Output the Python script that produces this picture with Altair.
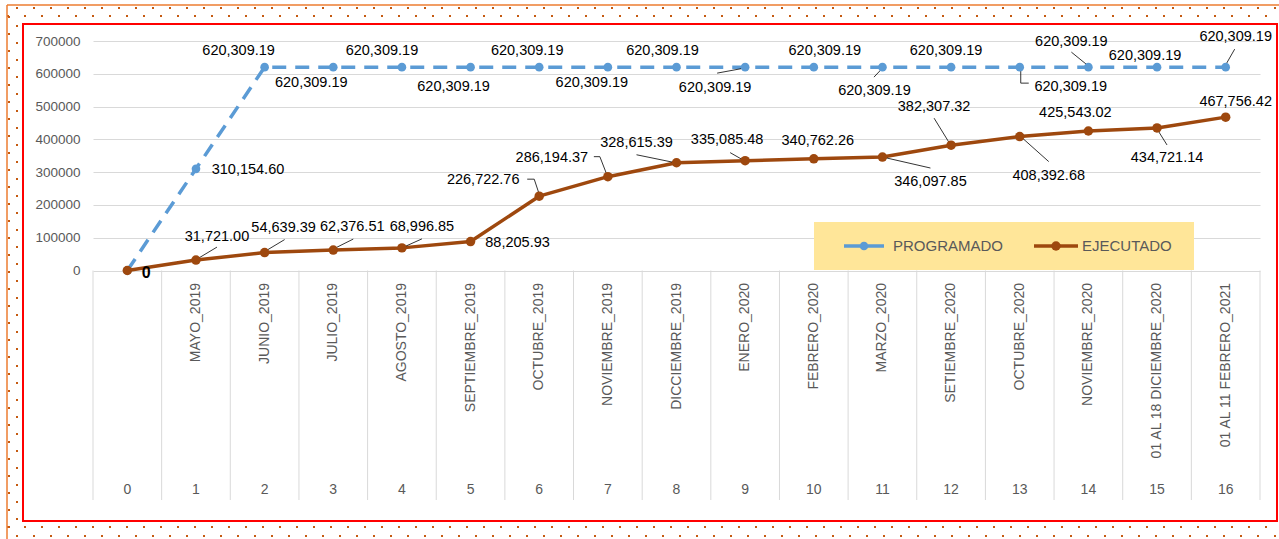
import altair as alt
import pandas as pd

# ---------------- data ----------------
SERIES = ["PROGRAMADO", "EJECUTADO"]
PERIODS = list(range(17))
CATEGORIES = ["", "MAYO_2019", "JUNIO_2019", "JULIO_2019", "AGOSTO_2019",
              "SEPTIEMBRE_2019", "OCTUBRE_2019", "NOVIEMBRE_2019", "DICCIEMBRE_2019",
              "ENERO_2020", "FEBRERO_2020", "MARZO_2020", "SETIEMBRE_2020",
              "OCTUBRE_2020", "NOVIEMBRE_2020", "01 AL 18 DICIEMBRE_2020",
              "01 AL 11 FEBRERO_2021"]
PROGRAMADO = [0, 310154.60, 620309.19, 620309.19, 620309.19, 620309.19, 620309.19,
              620309.19, 620309.19, 620309.19, 620309.19, 620309.19, 620309.19,
              620309.19, 620309.19, 620309.19, 620309.19]
EJECUTADO = [0, 31721.00, 54639.39, 62376.51, 68996.85, 88205.93, 226722.76,
             286194.37, 328615.39, 335085.48, 340762.26, 346097.85, 382307.32,
             408392.68, 425543.02, 434721.14, 467756.42]
Y_TICKS = [0, 100000, 200000, 300000, 400000, 500000, 600000, 700000]

# ---------------- layout / style (pixels) ----------------
W, H = 1167, 459
PAD = {"left": 93, "top": 41, "right": 19, "bottom": 39}
X_DOMAIN = [-0.5, 16.5]
Y_DOMAIN = [-700000, 700000]
XPX = W / (X_DOMAIN[1] - X_DOMAIN[0])
YPX = H / (Y_DOMAIN[1] - Y_DOMAIN[0])
BLUE = "#5B9BD5"
BROWN = "#9E480E"
GRAY_TXT = "#595959"
GRID = "#D9D9D9"
FONT = "Liberation Sans"

# label offsets from their point (dx, dy) in pixels, None = no label
PROG_LABEL_OFF = [None, (52, 1), (-26, -16), (-22, 16), (-20, -16), (-17, 20), (-12, -16),
                  (-16, 16), (-14, -16), (-30, 21), (11, -16), (-8, 24), (-5, -16),
                  (51, 20), (-17, -25), (-12, -11), (10, -30)]
EJ_LABEL_OFF = [(19, 2), (21, -23), (19, -25), (19, -23), (20, -21), (47, 1), (-56, -16),
                (-56, -19), (-40, -20), (-18, -21), (4, -18), (48, 25), (-17, -38),
                (29, 39), (-13, -18), (10, 30), (10, -15)]
# leader line paths relative to their point (pixels)
PROG_LEADERS = {9: [(-28, 6), (-1, 1)], 11: [(-8.5, 10), (1, 0)],
                13: [(1, 0), (1, 16), (9, 16)], 14: [(-17, -15), (-1, -2)],
                16: [(9, -18), (1, -4)]}
EJ_LEADERS = {1: [(21, -13), (1, -1)], 2: [(20, -13), (0, -1)], 3: [(20, -11), (0, -1)],
              4: [(20, -9), (0, 0)], 6: [(-12, -17), (-5, -17), (0, -2)],
              7: [(-14, -20), (-8, -20), (-1, -2)], 8: [(-40, -8), (-1, 0)],
              9: [(-15, -8), (-1, 0)], 11: [(48, 11), (0, 0)], 12: [(-17, -27), (-1, -1)],
              13: [(29, 25), (1, 0)], 15: [(10, 17), (0, 1)]}

# ---------------- tables ----------------
df_prog = pd.DataFrame({"x": PERIODS, "v": PROGRAMADO})
df_ej = pd.DataFrame({"x": PERIODS, "v": EJECUTADO})

label_rows = []
leader_rows = []
for sname, vals, offs, leaders in [(SERIES[0], PROGRAMADO, PROG_LABEL_OFF, PROG_LEADERS),
                                   (SERIES[1], EJECUTADO, EJ_LABEL_OFF, EJ_LEADERS)]:
    for i, (v, off) in enumerate(zip(vals, offs)):
        if off is None:
            continue
        txt = "0" if v == 0 else f"{v:,.2f}"
        label_rows.append({"x": i + off[0] / XPX, "v": v - off[1] / YPX, "t": txt,
                           "bold": v == 0})
    for i, path in leaders.items():
        for k, (dx, dy) in enumerate(path):
            leader_rows.append({"id": f"{sname}{i}", "k": k,
                                "x": i + dx / XPX, "v": vals[i] - dy / YPX})
df_lab = pd.DataFrame(label_rows)
df_lead = pd.DataFrame(leader_rows)
df_cat = pd.DataFrame({"x": PERIODS, "cat": CATEGORIES, "num": [str(p) for p in PERIODS]})
df_sep = pd.DataFrame({"x": [p - 0.5 for p in PERIODS] + [PERIODS[-1] + 0.5]})
one = pd.DataFrame({"d": [0]})

xs = alt.Scale(domain=X_DOMAIN, nice=False, zero=False)
ys = alt.Scale(domain=Y_DOMAIN, nice=False, zero=False)
yaxis = alt.Axis(values=Y_TICKS, format="d", grid=True, gridColor=GRID, gridWidth=1,
                 domain=False, ticks=False, labelColor=GRAY_TXT, labelFontSize=13.5,
                 labelFont=FONT, labelPadding=13, title=None)
X = lambda f="x": alt.X(f"{f}:Q", scale=xs, axis=None)
Y = lambda f="v": alt.Y(f"{f}:Q", scale=ys, axis=yaxis)


def px(v):
    return alt.value(v)

# ---------------- decorations ----------------
DOT = "#C55A11"
deco = []
for (y, x0) in [(8, 16), (16, 7), (527, 7), (536, 16)]:
    deco.append(alt.Chart(one).mark_rule(color=DOT, strokeWidth=2, strokeDash=[2, 15]).encode(
        x=px(x0 - PAD["left"]), x2=px(1279 - PAD["left"]), y=px(y - PAD["top"])))
for (x, y0) in [(9, 16), (17, 25)]:
    deco.append(alt.Chart(one).mark_rule(color=DOT, strokeWidth=2, strokeDash=[2, 15]).encode(
        x=px(x - PAD["left"]), y=px(y0 - PAD["top"]), y2=px(539 - PAD["top"])))
deco.append(alt.Chart(one).mark_rule(color="#ED7D31", strokeWidth=1.5).encode(
    x=px(7 - PAD["left"]), x2=px(1279 - PAD["left"]), y=px(5 - PAD["top"])))
deco.append(alt.Chart(one).mark_rule(color="#ED7D31", strokeWidth=1.5).encode(
    x=px(7 - PAD["left"]), y=px(5 - PAD["top"]), y2=px(539 - PAD["top"])))
deco.append(alt.Chart(one).mark_rect(fillOpacity=0, stroke="#FF0000", strokeWidth=2).encode(
    x=px(23 - PAD["left"]), x2=px(1277 - PAD["left"]),
    y=px(24 - PAD["top"]), y2=px(521 - PAD["top"])))

# ---------------- category axis ----------------
zero_px = (Y_DOMAIN[1] - 0) * YPX
sep = alt.Chart(df_sep).mark_rule(color=GRID, strokeWidth=1).encode(
    x=X(), y=px(zero_px), y2=px(H))
cat_txt = alt.Chart(df_cat).mark_text(angle=270, align="right", baseline="middle",
                                      font=FONT, fontSize=14, color=GRAY_TXT).encode(
    x=X(), y=px(283 - PAD["top"]), text="cat:N")
num_txt = alt.Chart(df_cat).mark_text(align="center", baseline="middle",
                                      font=FONT, fontSize=14, color=GRAY_TXT).encode(
    x=X(), y=px(490 - PAD["top"]), text="num:N")

# ---------------- legend box ----------------
L = PAD["left"]; T = PAD["top"]
leg = [
    alt.Chart(one).mark_rect(color="#FFE699").encode(
        x=px(814 - L), x2=px(1194 - L), y=px(222 - T), y2=px(270 - T)),
]

# ---------------- series ----------------
line_p = alt.Chart(df_prog).mark_line(color=BLUE, strokeWidth=3.5, strokeDash=[14, 9]).encode(x=X(), y=Y())
line_e = alt.Chart(df_ej).mark_line(color=BROWN, strokeWidth=3.5, strokeJoin="round").encode(x=X(), y=Y())
pts_p = alt.Chart(df_prog).mark_circle(color=BLUE, size=75, opacity=1).encode(x=X(), y=Y())
pts_e = alt.Chart(df_ej).mark_circle(color=BROWN, size=90, opacity=1).encode(x=X(), y=Y())
leaders = alt.Chart(df_lead).mark_line(color="black", strokeWidth=0.8).encode(
    x=X(), y=Y(), detail="id:N", order="k:Q")
labels = alt.Chart(df_lab).transform_filter("!datum.bold").mark_text(
    font=FONT, fontSize=14.5, color="black", align="center", baseline="middle").encode(
    x=X(), y=Y(), text="t:N")
label0 = alt.Chart(df_lab).transform_filter("datum.bold").mark_text(
    font=FONT, fontSize=16, fontWeight="bold", color="black", align="center",
    baseline="middle").encode(x=X(), y=Y(), text="t:N")

leg += [
    alt.Chart(one).mark_rule(color=BLUE, strokeWidth=3.5, strokeDash=[16, 8]).encode(
        x=px(844 - L), x2=px(884 - L), y=px(246 - T)),
    alt.Chart(one).mark_circle(color=BLUE, size=75, opacity=1).encode(
        x=px(864 - L), y=px(246 - T)),
    alt.Chart(one).mark_text(text=SERIES[0], align="left", baseline="middle", font=FONT,
                             fontSize=15, color=GRAY_TXT).encode(
        x=px(893 - L), y=px(246 - T)),
    alt.Chart(one).mark_rule(color=BROWN, strokeWidth=3.5).encode(
        x=px(1034 - L), x2=px(1078 - L), y=px(246 - T)),
    alt.Chart(one).mark_circle(color=BROWN, size=90, opacity=1).encode(
        x=px(1056 - L), y=px(246 - T)),
    alt.Chart(one).mark_text(text=SERIES[1], align="left", baseline="middle", font=FONT,
                             fontSize=15, color=GRAY_TXT).encode(
        x=px(1082 - L), y=px(246 - T)),
]

chart = alt.layer(
    *deco, sep, cat_txt, num_txt, *leg[:1],
    line_p, line_e, leaders, pts_p, pts_e, labels, label0, *leg[1:]
).properties(
    width=W, height=H, padding=PAD,
    autosize=alt.AutoSizeParams(type="none"), background="white"
).configure_view(stroke=None)

chart.save("out.html", embed_options={"renderer": "svg", "actions": False})
